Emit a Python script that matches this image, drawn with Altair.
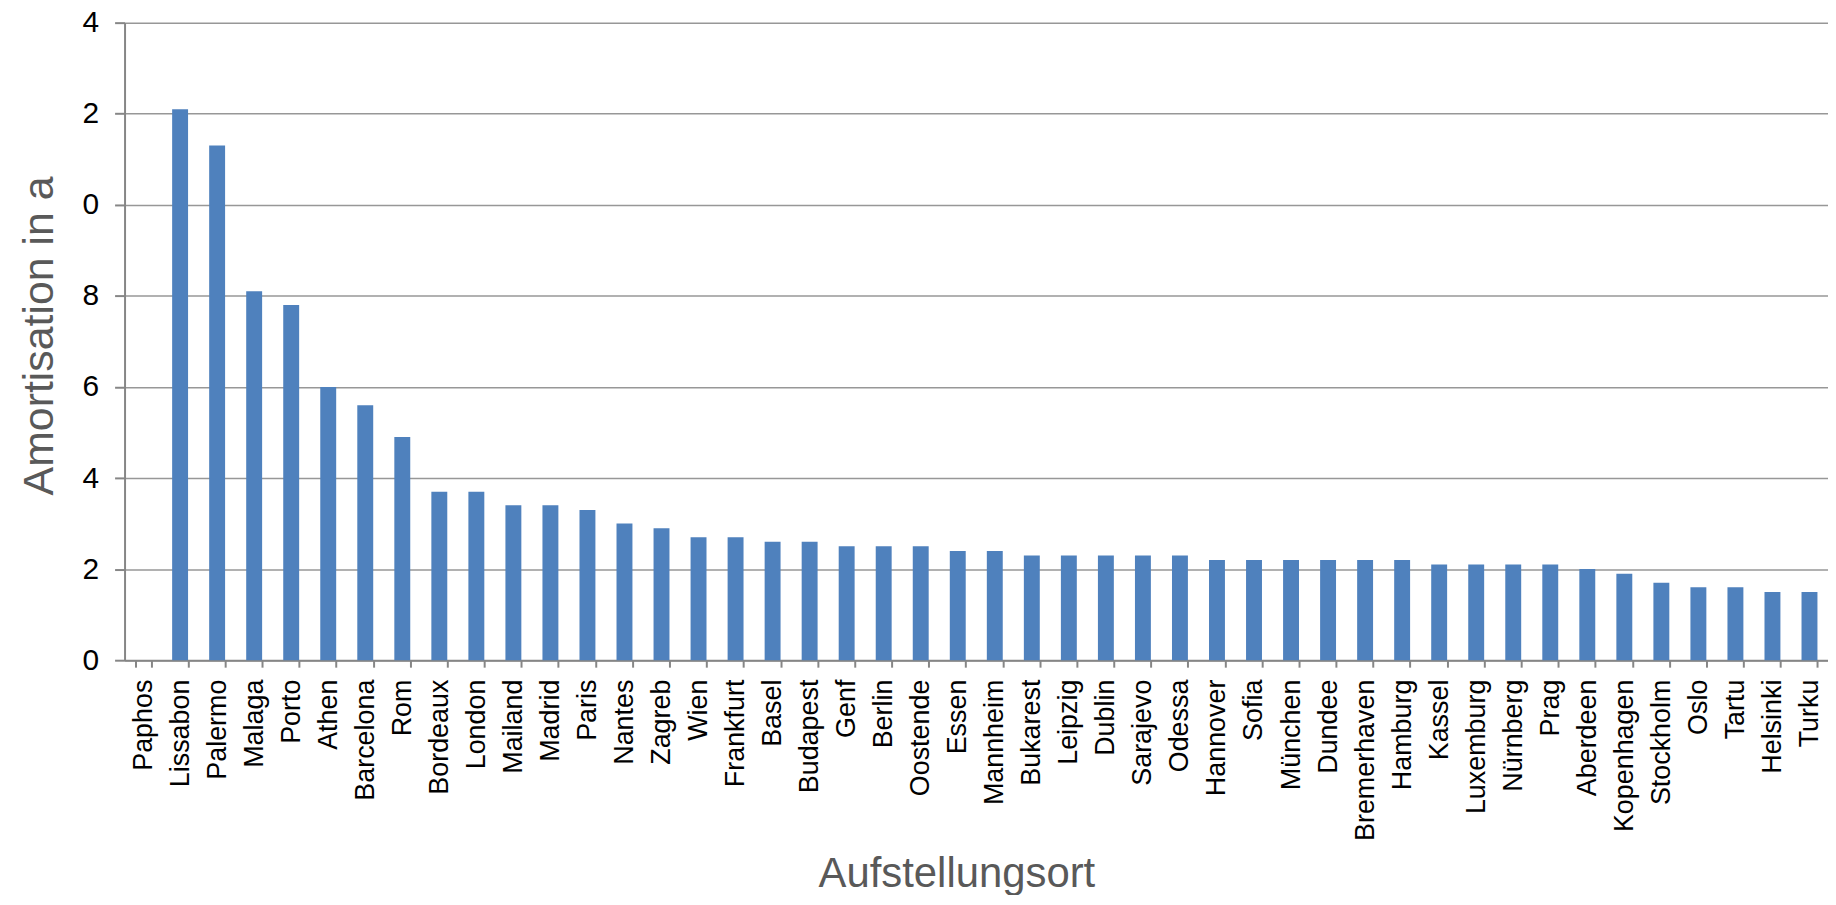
import altair as alt
import pandas as pd

cities = ["Paphos", "Lissabon", "Palermo", "Malaga", "Porto", "Athen", "Barcelona", "Rom",
          "Bordeaux", "London", "Mailand", "Madrid", "Paris", "Nantes", "Zagreb", "Wien",
          "Frankfurt", "Basel", "Budapest", "Genf", "Berlin", "Oostende", "Essen", "Mannheim",
          "Bukarest", "Leipzig", "Dublin", "Sarajevo", "Odessa", "Hannover", "Sofia", "München",
          "Dundee", "Bremerhaven", "Hamburg", "Kassel", "Luxemburg", "Nürnberg", "Prag",
          "Aberdeen", "Kopenhagen", "Stockholm", "Oslo", "Tartu", "Helsinki", "Turku"]
values = [0.0, 12.1, 11.3, 8.1, 7.8, 6.0, 5.6, 4.9,
          3.7, 3.7, 3.4, 3.4, 3.3, 3.0, 2.9, 2.7,
          2.7, 2.6, 2.6, 2.5, 2.5, 2.5, 2.4, 2.4,
          2.3, 2.3, 2.3, 2.3, 2.3, 2.2, 2.2, 2.2,
          2.2, 2.2, 2.2, 2.1, 2.1, 2.1, 2.1,
          2.0, 1.9, 1.7, 1.6, 1.6, 1.5, 1.5]
y_ticks = [0, 2, 4, 6, 8, 10, 12, 14]

df = pd.DataFrame({"Ort": cities, "Wert": values})

FONT = "Liberation Sans"
AXIS_GRAY = "#868686"

chart = alt.Chart(df).mark_bar(color="#4F81BD").encode(
    x=alt.X(
        "Ort:N", sort=cities, title="Aufstellungsort",
        scale=alt.Scale(paddingInner=0.57, paddingOuter=0.285),
        axis=alt.Axis(
            labelAngle=-90, labelFont=FONT, labelFontSize=27, labelColor="black",
            labelPadding=12, labelOverlap=False, labelLimit=300,
            tickBand="extent", tickSize=7, tickColor=AXIS_GRAY, tickWidth=2,
            domainColor=AXIS_GRAY, domainWidth=2, grid=False,
            titleFont=FONT, titleFontSize=42, titleColor="#595959", titleFontWeight="normal",
            titleX=835, titleY=227, titleAlign="center", titleBaseline="alphabetic",
        ),
    ),
    y=alt.Y(
        "Wert:Q", title="Amortisation in a",
        scale=alt.Scale(domain=[0, 14], nice=False),
        axis=alt.Axis(
            values=y_ticks, labelExpr="datum.value % 10",
            labelFont=FONT, labelFontSize=30, labelColor="black", labelPadding=16,
            tickSize=10, tickColor=AXIS_GRAY, tickWidth=2,
            domainColor=AXIS_GRAY, domainWidth=2,
            grid=True, gridColor="#979797", gridWidth=1.5,
            titleFont=FONT, titleFontSize=43, titleColor="#595959", titleFontWeight="normal",
            titleX=-72, titleY=314, titleAlign="center", titleBaseline="alphabetic", titleAngle=270,
        ),
    ),
).properties(
    width=1710, height=640,
    padding={"left": 117, "top": 13, "right": 0, "bottom": 234},
    autosize=alt.AutoSizeParams(type="none"),
).configure_view(stroke=None)

chart.save("out.html", embed_options={"renderer": "svg", "actions": False})
